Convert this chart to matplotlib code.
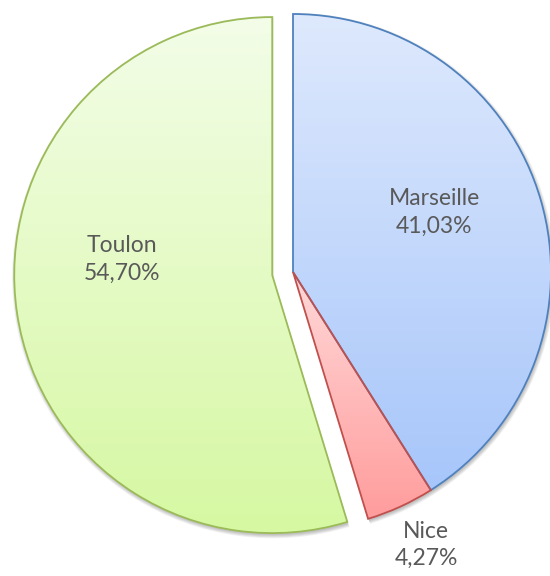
import numpy as np
import matplotlib
matplotlib.use("Agg")
import matplotlib.pyplot as plt
from matplotlib.patches import Wedge
from matplotlib.colors import LinearSegmentedColormap

# ---- data ----
cities = ["Marseille", "Nice", "Toulon"]
shares = [41.03, 4.27, 54.70]
label_texts = ["41,03%", "4,27%", "54,70%"]

# ---- style ----
explode = [0, 0, 21]
edge_colors = ["#4F81BD", "#C0504D", "#9BBB59"]
grad_top = ["#DEE9FD", "#FFD8D8", "#F3FDE8"]
grad_bottom = ["#A7C6FA", "#FF9C9C", "#D6F8A2"]
# label placement (distance as fraction of radius, angle in degrees) per slice
label_layout = [(0.594, 23.0), (1.177, -64.0), (0.585, 173.9)]

W, H = 550, 576
fig = plt.figure(figsize=(W / 100, H / 100), dpi=100)
ax = fig.add_axes([0, 0, 1, 1])

R = 258
center = (293, 304)
wedges, _ = ax.pie(shares, radius=R, center=center, startangle=90,
                   counterclock=False, explode=explode, frame=True,
                   wedgeprops=dict(linewidth=1.3))

for i, w in enumerate(wedges):
    w.set_facecolor("none")
    w.set_edgecolor(edge_colors[i])
    w.set_zorder(5)
    cx, cy = w.center
    # soft shadow
    for k in range(5):
        sh = Wedge((cx + 1, cy - 2), R + k * 0.8, w.theta1, w.theta2,
                   facecolor="black", edgecolor="none", alpha=0.05, zorder=1)
        ax.add_patch(sh)
    base = Wedge((cx, cy), R, w.theta1, w.theta2, facecolor="white",
                 edgecolor="none", zorder=2)
    ax.add_patch(base)
    path = w.get_path().transformed(w.get_patch_transform())
    ext = path.get_extents()
    cmap = LinearSegmentedColormap.from_list("g", [grad_bottom[i], grad_top[i]])
    grad = np.linspace(0, 1, 256).reshape(-1, 1)
    im = ax.imshow(grad, cmap=cmap, origin="lower", aspect="auto",
                   extent=[ext.x0, ext.x1, ext.y0, ext.y1], zorder=3,
                   interpolation="bilinear")
    clip = Wedge((cx, cy), R, w.theta1, w.theta2, transform=ax.transData)
    im.set_clip_path(clip)

    d, ang = label_layout[i]
    tx = cx + d * R * np.cos(np.radians(ang))
    ty = cy + d * R * np.sin(np.radians(ang))
    ax.text(tx, ty, f"{cities[i]}\n{label_texts[i]}", ha="center", va="center",
            fontsize=16.5, color="#595959", family=["Lato", "DejaVu Sans"],
            linespacing=1.39, zorder=10)

ax.set_xlim(0, W)
ax.set_ylim(0, H)
ax.set_aspect("equal")
ax.axis("off")
fig.savefig("out.png", dpi=100)
